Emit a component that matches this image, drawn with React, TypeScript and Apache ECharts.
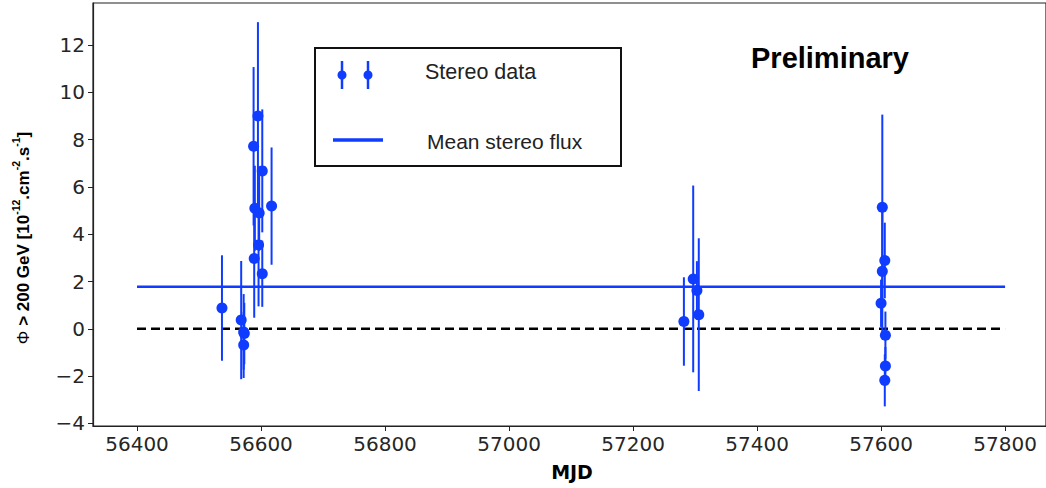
import React, { useEffect, useRef } from "react";
import * as echarts from "echarts";

const mjd = [56537, 56568, 56572, 56573, 56572, 56588, 56595, 56602, 56590, 56597, 56596, 56589, 56602, 56617, 57282, 57297, 57303, 57306, 57602, 57606, 57602, 57600, 57607, 57607, 57606];
const flux = [0.88, 0.37, -0.13, -0.2, -0.68, 7.72, 9.0, 6.68, 5.1, 4.9, 3.55, 2.97, 2.33, 5.19, 0.31, 2.11, 1.62, 0.6, 5.14, 2.89, 2.43, 1.08, -0.27, -1.57, -2.18];
const fluxErr = [2.23, 2.5, 1.6, 1.3, 1.4, 3.35, 3.97, 2.6, 1.8, 1.6, 2.6, 2.5, 1.4, 2.48, 1.87, 3.95, 1.24, 3.23, 3.92, 1.6, 2.6, 1.0, 1.0, 0.8, 1.1];
const meanFlux = 1.78;
const lineRange = [56400, 57800];
const xTicks = [56400, 56600, 56800, 57000, 57200, 57400, 57600, 57800];
const yTicks = [-4, -2, 0, 2, 4, 6, 8, 10, 12];

const BLUE = "#0f3cff";

export default function App() {
  const ref = useRef<HTMLDivElement>(null);
  useEffect(() => {
    if (!ref.current) return;
    const chart = echarts.init(ref.current, null, { renderer: "svg" });
    const points = mjd.map((x, i) => [x, flux[i]]);
    const bars = mjd.map((x, i) => [x, flux[i] - fluxErr[i], flux[i] + fluxErr[i]]);
    const tickFont = { fontSize: 20, color: "#262626", fontFamily: "DejaVu Sans" };
    chart.setOption({
      animation: false,
      backgroundColor: "#fff",
      grid: { show: true, left: 93, top: 3, width: 957, height: 423, borderColor: "#222", borderWidth: 1.2, containLabel: false },
      xAxis: {
        type: "value", min: 56329, max: 57866,
        axisLine: { show: true, onZero: false, lineStyle: { color: "#222", width: 1.2 } },
        axisTick: { show: true, length: 5, customValues: xTicks, lineStyle: { color: "#222" } },
        axisLabel: { ...tickFont, margin: 8, customValues: xTicks, formatter: (v: number) => String(v) },
        splitLine: { show: false },
      },
      yAxis: {
        type: "value", min: -4.11, max: 13.78,
        axisLine: { show: true, onZero: false, lineStyle: { color: "#222", width: 1.2 } },
        axisTick: { show: true, length: 5, customValues: yTicks, lineStyle: { color: "#222" } },
        axisLabel: { ...tickFont, margin: 8, customValues: yTicks, formatter: (v: number) => String(v).replace("-", "\u2212") },
        splitLine: { show: false },
      },
      series: [
        {
          type: "line", data: lineRange.map((x) => [x, 0]), symbol: "none", silent: true,
          lineStyle: { color: "#000", width: 2.5, type: [9, 5] }, z: 1,
        },
        {
          type: "line", data: lineRange.map((x) => [x, meanFlux]), symbol: "none", silent: true,
          lineStyle: { color: BLUE, width: 2.5 }, z: 2,
        },
        {
          type: "custom", data: bars, z: 3,
          renderItem: (params: any, api: any) => {
            const p1 = api.coord([api.value(0), api.value(1)]);
            const p2 = api.coord([api.value(0), api.value(2)]);
            return { type: "line", shape: { x1: p1[0], y1: p1[1], x2: p2[0], y2: p2[1] }, style: { stroke: BLUE, lineWidth: 2 } };
          },
        },
        {
          type: "scatter", data: points, symbol: "circle", symbolSize: 11, z: 4,
          itemStyle: { color: BLUE, opacity: 1 },
        },
      ],
      graphic: [
        { type: "rect", shape: { x: 315, y: 48, width: 306, height: 118 }, style: { fill: "#fff", stroke: "#111", lineWidth: 2 }, z: 100 },
        { type: "line", shape: { x1: 342, y1: 61, x2: 342, y2: 89 }, style: { stroke: BLUE, lineWidth: 2.5 }, z: 101 },
        { type: "line", shape: { x1: 368, y1: 61, x2: 368, y2: 89 }, style: { stroke: BLUE, lineWidth: 2.5 }, z: 101 },
        { type: "circle", shape: { cx: 342, cy: 75, r: 4.5 }, style: { fill: BLUE }, z: 102 },
        { type: "circle", shape: { cx: 368, cy: 75, r: 4.5 }, style: { fill: BLUE }, z: 102 },
        { type: "text", x: 425, y: 72, style: { text: "Stereo data", font: "21.5px 'Liberation Sans'", fill: "#222", verticalAlign: "middle", align: "left" }, z: 101 },
        { type: "line", shape: { x1: 333, y1: 140, x2: 383, y2: 140 }, style: { stroke: BLUE, lineWidth: 3.5 }, z: 101 },
        { type: "text", x: 427, y: 141, style: { text: "Mean stereo flux", font: "21px 'Liberation Sans'", fill: "#222", verticalAlign: "middle", align: "left" }, z: 101 },
        { type: "text", x: 751, y: 58, style: { text: "Preliminary", font: "bold 29px 'Liberation Sans'", fill: "#000", verticalAlign: "middle", align: "left" }, z: 101 },
        { type: "text", x: 572, y: 472, style: { text: "MJD", font: "bold 19px 'DejaVu Sans'", fill: "#000", verticalAlign: "middle", align: "center" }, z: 101 },
        {
          type: "text", x: 21, y: 238, rotation: Math.PI / 2, z: 101,
          style: {
            text: "{p|\u03A6}{b| > 200 GeV [10}{s|-12}{b|.cm}{s|-2}{b|.s}{s|-1}{b|]}",
            align: "center", verticalAlign: "middle",
            rich: {
              p: { fontSize: 17, fontFamily: "Liberation Sans", fill: "#000", lineHeight: 21, verticalAlign: "bottom" },
              b: { fontSize: 17, fontWeight: "bold", fontFamily: "Liberation Sans", fill: "#000", lineHeight: 21, verticalAlign: "bottom" },
              s: { fontSize: 10.5, fontWeight: "bold", fontFamily: "Liberation Sans", fill: "#000", lineHeight: 21, verticalAlign: "top" },
            },
          },
        },
      ],
    });
    return () => chart.dispose();
  }, []);
  return <div ref={ref} style={{ position: "fixed", left: 0, top: 0, width: 1046, height: 488 }} />;
}
